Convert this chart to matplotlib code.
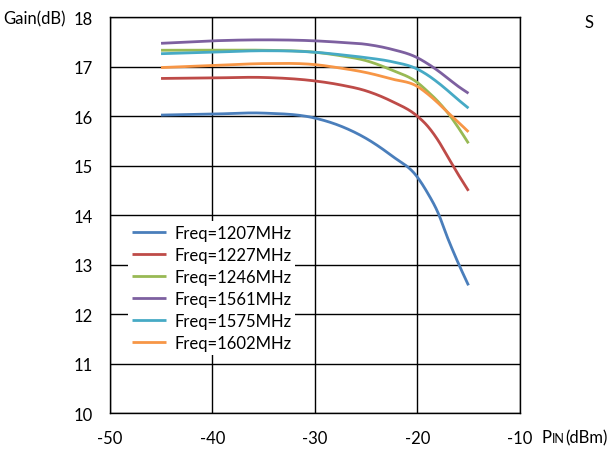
import matplotlib
matplotlib.use("Agg")
import matplotlib.pyplot as plt
import numpy as np

plt.rcParams['font.family'] = ['Lato', 'DejaVu Sans']

pin = [-45, -40, -35, -30, -27.5, -25, -22.5, -20, -19, -18, -17, -16, -15]
labels = ["Freq=1207MHz", "Freq=1227MHz", "Freq=1246MHz",
          "Freq=1561MHz", "Freq=1575MHz", "Freq=1602MHz"]
g1207 = [16.02, 16.04, 16.06, 15.96, 15.80, 15.55, 15.20, 14.77, 14.45, 14.06, 13.52, 13.03, 12.58]
g1227 = [16.76, 16.77, 16.78, 16.71, 16.63, 16.51, 16.30, 16.00, 15.80, 15.52, 15.17, 14.82, 14.49]
g1246 = [17.33, 17.33, 17.33, 17.29, 17.22, 17.12, 16.93, 16.68, 16.50, 16.30, 16.06, 15.77, 15.45]
g1561 = [17.47, 17.52, 17.54, 17.52, 17.49, 17.45, 17.35, 17.18, 17.06, 16.92, 16.76, 16.60, 16.46]
g1575 = [17.26, 17.29, 17.32, 17.29, 17.24, 17.18, 17.10, 16.95, 16.83, 16.68, 16.51, 16.33, 16.16]
g1602 = [16.98, 17.02, 17.06, 17.04, 16.97, 16.88, 16.75, 16.60, 16.45, 16.27, 16.07, 15.88, 15.68]
series = [g1207, g1227, g1246, g1561, g1575, g1602]
colors = ["#4A7EBB", "#BE4B48", "#98B954", "#7D60A0", "#46AAC5", "#F79646"]
xticks = [-50, -40, -30, -20, -10]
yticks = [10, 11, 12, 13, 14, 15, 16, 17, 18]

def smooth(x, y, n=30):
    # cubic Hermite through the points, slopes from neighbouring secants
    x = np.asarray(x, float); y = np.asarray(y, float)
    d = np.diff(y) / np.diff(x)
    m = np.empty_like(y)
    m[0] = d[0]; m[-1] = d[-1]
    h = np.diff(x)
    for i in range(1, len(x) - 1):
        m[i] = (d[i-1] * h[i] + d[i] * h[i-1]) / (h[i] + h[i-1])
    xs, ys = [], []
    for i in range(len(x) - 1):
        t = np.linspace(0, 1, n, endpoint=False)
        h00 = 2*t**3 - 3*t**2 + 1; h10 = t**3 - 2*t**2 + t
        h01 = -2*t**3 + 3*t**2; h11 = t**3 - t**2
        xs.append(x[i] + t*h[i])
        ys.append(h00*y[i] + h10*h[i]*m[i] + h01*y[i+1] + h11*h[i]*m[i+1])
    xs.append([x[-1]]); ys.append([y[-1]])
    return np.concatenate(xs), np.concatenate(ys)

fig = plt.figure(figsize=(6.10, 4.52), dpi=100)
ax = fig.add_axes([0.180, 0.084, 0.672, 0.876])
for s, c, l in zip(series, colors, labels):
    xs, ys = smooth(pin, s)
    ax.plot(xs, ys, color=c, lw=2, label=l, solid_capstyle='butt')

ax.set_xlim(-50, -10)
ax.set_ylim(10, 18)
ax.set_xticks(xticks)
ax.set_yticks(yticks)
ax.set_xticklabels([str(v) for v in xticks])
ax.set_yticklabels([str(v) for v in yticks])
ax.grid(True, color='black', lw=1)
ax.set_axisbelow(True)
for sp in ax.spines.values():
    sp.set_color('black'); sp.set_linewidth(1)
ax.tick_params(length=0, labelsize=12, pad=12)
ax.tick_params(axis='x', pad=12)

leg = ax.legend(loc='upper left', bbox_to_anchor=(0.045, 0.485), frameon=True,
                fontsize=12, handlelength=2.0, labelspacing=0.36,
                borderaxespad=0, handletextpad=0.5, borderpad=0.25)
leg.get_frame().set_edgecolor('none')
leg.get_frame().set_facecolor('white')
leg.get_frame().set_alpha(1)
leg.get_frame().set_boxstyle('square', pad=0)

fig.text(0.005, 0.958, "Gain(dB)", fontsize=12, va='center', ha='left')
fig.text(0.887, 0.030, "P", fontsize=12, va='center', ha='left')
fig.text(0.904, 0.028, "IN", fontsize=9, va='center', ha='left')
fig.text(0.926, 0.030, "(dBm)", fontsize=12, va='center', ha='left')
fig.text(0.958, 0.950, "S", fontsize=12, va='center', ha='left')

fig.savefig("out.png", dpi=100)
